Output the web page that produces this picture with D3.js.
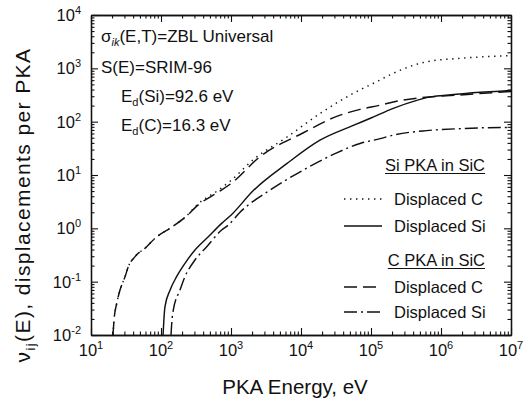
<!DOCTYPE html>
<html>
<head>
<meta charset="utf-8">
<script src="https://cdn.jsdelivr.net/npm/d3@7/dist/d3.min.js"></script>
<style>
  html, body { margin: 0; padding: 0; background: #fff; }
  svg { display: block; }
  text { font-family: "Liberation Sans", Arial, Helvetica, sans-serif; fill: #111; }
</style>
</head>
<body>
<svg id="chart" width="531" height="404"></svg>
<script>
// ---------------- DATA ----------------
const xMajorTicks = [1e1, 1e2, 1e3, 1e4, 1e5, 1e6, 1e7];
const xTickExponents = ["1", "2", "3", "4", "5", "6", "7"];
const yMajorTicks = [1e-2, 1e-1, 1e0, 1e1, 1e2, 1e3, 1e4];
const yTickExponents = ["-2", "-1", "0", "1", "2", "3", "4"];

// Si PKA in SiC – displaced C (dotted)
const siDispC_E = [20.6, 21.4, 23.3, 25.9, 30.6, 34.1, 42.6, 62.5, 82, 142, 220, 341, 659, 1000, 2084, 6250, 18660, 55850, 120500, 208000, 625000, 1.87e6, 8.7e6, 1e7];
const siDispC_v = [0.010, 0.020, 0.039, 0.069, 0.123, 0.19, 0.295, 0.452, 0.65, 1.05, 1.6, 2.9, 5.2, 7.9, 19.5, 51, 142, 340, 562, 807, 1330, 1540, 1726, 1740];

// Si PKA in SiC – displaced Si (solid)
const siDispSi_E = [107, 109.6, 114, 135, 167, 220, 306, 474, 736, 1023, 2084, 6250, 18660, 55850, 1e5, 208000, 450000, 625000, 1.87e6, 8.7e6, 1e7];
const siDispSi_v = [0.010, 0.018, 0.034, 0.070, 0.124, 0.221, 0.393, 0.697, 1.24, 1.82, 5.1, 16.3, 45, 85, 117, 178, 251, 282, 331, 380, 385];

// C PKA in SiC – displaced C (dashed)
const cDispC_E = [20.6, 21.4, 23.3, 25.9, 30.6, 34.1, 42.6, 62.5, 82, 142, 220, 341, 659, 1000, 2590, 10800, 32400, 69700, 135000, 208000, 450000, 1.87e6, 8.7e6, 1e7];
const cDispC_v = [0.010, 0.020, 0.039, 0.069, 0.123, 0.19, 0.295, 0.452, 0.65, 1.05, 1.6, 2.75, 4.8, 6.9, 22, 62, 126, 170, 204, 234, 275, 316, 363, 367];

// C PKA in SiC – displaced Si (dash-dot)
const cDispSi_E = [139, 143, 150, 187, 220, 306, 450, 736, 914, 1346, 3606, 10800, 32400, 69700, 135000, 208000, 625000, 1.87e6, 8.7e6, 1e7];
const cDispSi_v = [0.010, 0.018, 0.0295, 0.070, 0.124, 0.255, 0.452, 0.93, 1.15, 2.0, 5.2, 12.4, 26, 39, 48, 56, 68, 74, 78, 78];

const legendHeaders = ["Si PKA in SiC", "C PKA in SiC"];
const legendLabels = ["Displaced C", "Displaced Si", "Displaced C", "Displaced Si"];

// ---------------- SETUP ----------------
const svg = d3.select("#chart");
const L = 91, R = 511, T = 15, B = 335;
const x = d3.scaleLog().domain([1e1, 1e7]).range([L, R]);
const y = d3.scaleLog().domain([1e-2, 1e4]).range([B, T]);

function minorTicks(lo, hi) {
  const out = [];
  for (let d = lo; d < hi; d *= 10) for (let k = 2; k <= 9; k++) out.push(d * k);
  return out;
}
const xMinor = minorTicks(1e1, 1e7);
const yMinor = minorTicks(1e-2, 1e4);

const axisG = svg.append("g").attr("class", "axes");
function drawAxis(gen, transform, values, size) {
  const g = axisG.append("g").attr("transform", transform)
    .call(gen.tickValues(values).tickSize(size).tickSizeOuter(0).tickFormat(""));
  g.selectAll("path").attr("stroke", "#111").attr("stroke-width", 1.3);
  g.selectAll("line").attr("stroke", "#111").attr("stroke-width", 1.1);
  return g;
}
drawAxis(d3.axisBottom(x), `translate(0,${B})`, xMajorTicks, -7);
drawAxis(d3.axisBottom(x), `translate(0,${B})`, xMinor, -3.5);
drawAxis(d3.axisTop(x), `translate(0,${T})`, xMajorTicks, -7);
drawAxis(d3.axisTop(x), `translate(0,${T})`, xMinor, -3.5);
drawAxis(d3.axisLeft(y), `translate(${L},0)`, yMajorTicks, -7);
drawAxis(d3.axisLeft(y), `translate(${L},0)`, yMinor, -3.5);
drawAxis(d3.axisRight(y), `translate(${R},0)`, yMajorTicks, -7);
drawAxis(d3.axisRight(y), `translate(${R},0)`, yMinor, -3.5);

// tick labels with superscripts
const xl = svg.append("g").selectAll("text").data(xMajorTicks).enter().append("text")
  .attr("x", d => x(d)).attr("y", B + 21).attr("text-anchor", "middle")
  .style("font-size", "16.5px");
xl.append("tspan").text("10");
xl.append("tspan").attr("dy", -7).style("font-size", "11px").text((d, i) => xTickExponents[i]);

const yl = svg.append("g").selectAll("text").data(yMajorTicks).enter().append("text")
  .attr("x", L - 10).attr("y", d => y(d) + 6).attr("text-anchor", "end")
  .style("font-size", "16.5px");
yl.append("tspan").text("10");
yl.append("tspan").attr("dy", -7).style("font-size", "11px").text((d, i) => yTickExponents[i]);

// axis titles
svg.append("text").attr("x", 295).attr("y", 394).attr("text-anchor", "middle")
  .style("font-size", "20.5px").text("PKA Energy, eV");
const yt = svg.append("text").attr("transform", "translate(30,205) rotate(-90)")
  .attr("text-anchor", "middle").style("font-size", "21px").style("letter-spacing", "1.4px");
yt.append("tspan").text("ν");
yt.append("tspan").attr("dy", 5).style("font-size", "13px").text("ij");
yt.append("tspan").attr("dy", -5).text("(E), displacements per PKA");

// annotations
const ann = svg.append("g").style("font-size", "17px");
const a1 = ann.append("text").attr("x", 101).attr("y", 42);
a1.append("tspan").text("σ");
a1.append("tspan").attr("dy", 4).style("font-size", "11px").style("font-style", "italic").text("ik");
a1.append("tspan").attr("dy", -4).text("(E,T)=ZBL Universal");
ann.append("text").attr("x", 101).attr("y", 73).text("S(E)=SRIM-96");
const a3 = ann.append("text").attr("x", 121).attr("y", 102);
a3.append("tspan").text("E");
a3.append("tspan").attr("dy", 4).style("font-size", "11px").text("d");
a3.append("tspan").attr("dy", -4).text("(Si)=92.6 eV");
const a4 = ann.append("text").attr("x", 121).attr("y", 131);
a4.append("tspan").text("E");
a4.append("tspan").attr("dy", 4).style("font-size", "11px").text("d");
a4.append("tspan").attr("dy", -4).text("(C)=16.3 eV");

// ---------------- CURVES ----------------
const line = d3.line().x(d => x(d[0])).y(d => y(d[1])).curve(d3.curveMonotoneX);
const series = [
  { E: siDispC_E, v: siDispC_v, dash: "1.4,4.6" },
  { E: siDispSi_E, v: siDispSi_v, dash: null },
  { E: cDispC_E, v: cDispC_v, dash: "13,6" },
  { E: cDispSi_E, v: cDispSi_v, dash: "13,4,2,4" }
];
const plot = svg.append("g");
series.forEach(s => {
  plot.append("path")
    .datum(s.E.map((e, i) => [e, s.v[i]]))
    .attr("d", line)
    .attr("fill", "none")
    .attr("stroke", "#111")
    .attr("stroke-width", 1.45)
    .attr("stroke-dasharray", s.dash);
});

// ---------------- LEGEND ----------------
const lg = svg.append("g").style("font-size", "16.5px");
const headerY = [171, 266];
const entryY = [205, 232, 293, 318];
headerY.forEach((hy, i) => {
  const t = lg.append("text").attr("x", 485).attr("y", hy).attr("text-anchor", "end")
    .text(legendHeaders[i]);
  const w = t.node().getComputedTextLength();
  lg.append("line").attr("x1", 485 - w).attr("x2", 485).attr("y1", hy + 2.5).attr("y2", hy + 2.5)
    .attr("stroke", "#111").attr("stroke-width", 1.1);
});
entryY.forEach((ey, i) => {
  lg.append("text").attr("x", 394).attr("y", ey).text(legendLabels[i]);
  lg.append("line").attr("x1", 344).attr("x2", 382).attr("y1", ey - 6).attr("y2", ey - 6)
    .attr("stroke", "#111").attr("stroke-width", 1.4)
    .attr("stroke-dasharray", series[i].dash);
});
</script>
</body>
</html>
